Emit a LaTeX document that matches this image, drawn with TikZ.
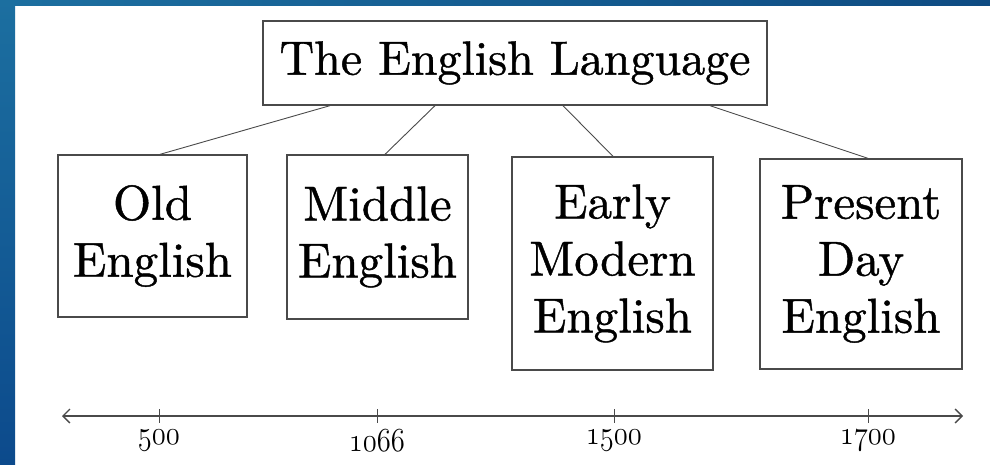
\documentclass[tikz,border=0pt]{standalone}
\usepackage{fontspec}
\usepackage{graphicx}
\newfontface\heavyrm{lmroman10-regular.otf}[FakeBold=0.9]
\newcommand{\osfdigits}[1]{\scalebox{1.15}[1.35]{\usefont{OML}{lmm}{m}{it}#1}}
\usetikzlibrary{calc,arrows.meta}
\definecolor{bgteal}{HTML}{1C6FA0}
\definecolor{bgblue}{HTML}{0C4A8C}
\definecolor{bgnavy}{HTML}{0E4B82}
\definecolor{boxline}{HTML}{4A4A4A}
\begin{document}
\begin{tikzpicture}[x=1pt,y=-1pt,
  era/.style={draw=boxline, line width=1.3pt, fill=white, align=center,
    font=\heavyrm\fontsize{49}{57}\selectfont, inner sep=0pt},
  conn/.style={draw=boxline, line width=0.9pt},
  axis/.style={draw=boxline, line width=1.3pt},
  yearlbl/.style={font=\fontsize{30}{32}\selectfont, text=black, inner sep=0pt}]
\useasboundingbox (0,0) rectangle (990,465);
% background
\fill[white] (0,0) rectangle (990,465);
\shade[left color=bgteal, right color=bgnavy] (0,0) rectangle (990,6);
\shade[top color=bgteal, bottom color=bgblue] (0,0) rectangle (15,465);
% nodes
\node[era, minimum width=504pt, minimum height=84pt, font=\heavyrm\fontsize{48}{57}\selectfont] (top) at (515,63) {The English Language};
\node[era, minimum width=189pt, minimum height=162pt] (old) at (152.5,236) {Old\\English};
\node[era, minimum width=181pt, minimum height=164pt] (mid) at (377.5,237) {Middle\\English};
\node[era, minimum width=201pt, minimum height=213pt] (early) at (612.5,263.5) {Early\\Modern\\English};
\node[era, minimum width=202pt, minimum height=210pt] (pres) at (861,264) {Present\\Day\\English};
% connectors
\draw[conn] ([xshift=-185pt]top.south) -- ([xshift=7.5pt]old.north);
\draw[conn] ([xshift=-80pt]top.south) -- ([xshift=7.5pt]mid.north);
\draw[conn] ([xshift=48pt]top.south) -- ([xshift=0.5pt]early.north);
\draw[conn] ([xshift=195pt]top.south) -- ([xshift=7pt]pres.north);
% timeline
\coordinate (tl) at (62,416);
\coordinate (tr) at (963,416);
\draw[axis, {Straight Barb[length=7pt,width=14pt]}-{Straight Barb[length=7pt,width=14pt]}] (tl) -- (tr);
\foreach \x/\lab/\nm in {159/500/ya,377/1066/yb,614/1500/yc,868/1700/yd}{
  \coordinate (t\nm) at (\x,416);
  \draw[axis, line width=1pt] ($(t\nm)+(0,-7)$) -- ($(t\nm)+(0,7)$);
  \node[yearlbl] (\nm) at (\x,441) {\osfdigits{\lab}};
}
\end{tikzpicture}
\end{document}
